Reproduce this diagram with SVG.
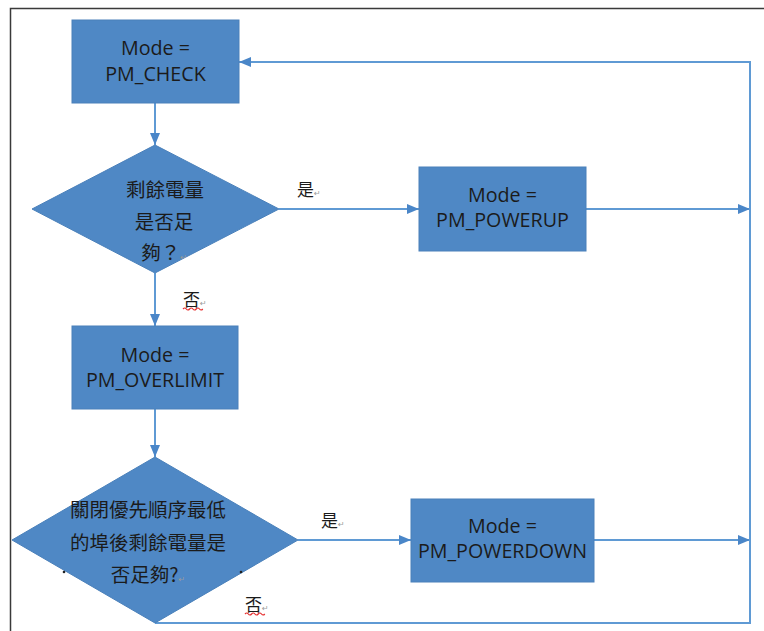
<svg xmlns="http://www.w3.org/2000/svg" width="764" height="631" viewBox="0 0 764 631">
<style>
.box{fill:#4f88c5;stroke:#4a80ba;stroke-width:1}
.lbl{font-family:"Open Sans","Liberation Sans",sans-serif;font-size:19.7px;fill:#1b1b1b;text-anchor:middle}
.cjk{font-family:"Noto Sans CJK TC","Noto Sans CJK SC",sans-serif;font-size:19.5px;fill:#1b1b1b;text-anchor:middle}
.yn{font-family:"Noto Sans CJK TC","Noto Sans CJK SC",sans-serif;font-size:17px;fill:#1b1b1b}
.pm{font-family:"DejaVu Sans",sans-serif;font-size:8px;fill:#9a9a9a}
.con{fill:none;stroke:#5f9ad4;stroke-width:2}
.sq{fill:none;stroke:#e53030;stroke-width:1.2}
</style>
<defs>
<marker id="ah" markerUnits="userSpaceOnUse" markerWidth="13" markerHeight="11" refX="12" refY="5" orient="auto">
<path d="M0,0 L12,5 L0,10 z" fill="#4a86c8"/>
</marker>
</defs>
<rect width="764" height="631" fill="#ffffff"/>
<path d="M10.5 631 V8.5 H764" fill="none" stroke="#3a3a3a" stroke-width="1.5"/>

<g id="connectors">
<line class="con" x1="155" y1="103" x2="155" y2="145" marker-end="url(#ah)"/>
<line class="con" x1="279" y1="209" x2="419" y2="209" marker-end="url(#ah)"/>
<line class="con" x1="586" y1="209" x2="750" y2="209" marker-end="url(#ah)"/>
<line class="con" x1="155" y1="273" x2="155" y2="326" marker-end="url(#ah)"/>
<line class="con" x1="155" y1="409" x2="155" y2="457" marker-end="url(#ah)"/>
<line class="con" x1="298" y1="540" x2="411" y2="540" marker-end="url(#ah)"/>
<line class="con" x1="594" y1="540" x2="750" y2="540" marker-end="url(#ah)"/>
<path class="con" d="M155 623 H750 V62 H239" marker-end="url(#ah)"/>
<text class="yn" x="297" y="196">是<tspan class="pm">↵</tspan></text>
<text class="yn" x="183" y="306">否<tspan class="pm">↵</tspan></text>
<path class="sq" d="M183 309 q1.7 -2 3.3 0 t3.3 0 t3.3 0 t3.3 0 t3.3 0 t3.3 0"/>
<text class="yn" x="321" y="527">是<tspan class="pm">↵</tspan></text>
<text class="yn" x="245" y="611">否<tspan class="pm">↵</tspan></text>
<path class="sq" d="M245 614 q1.7 -2 3.3 0 t3.3 0 t3.3 0 t3.3 0 t3.3 0 t3.3 0"/>
</g>

<g id="pm_check">
<rect class="box" x="72" y="20" width="167" height="83"/>
<text class="lbl" x="155.5" y="55">Mode =</text>
<text class="lbl" x="155.5" y="81">PM_CHECK</text>
</g>

<g id="decision1">
<polygon class="box" points="155,145 279,209 155,273 32,209"/>
<text class="cjk" x="165" y="197">剩餘電量</text>
<text class="cjk" x="164" y="229">是否足</text>
<text class="cjk" x="164" y="260">夠？<tspan class="pm">↵</tspan></text>
</g>

<g id="pm_powerup">
<rect class="box" x="419" y="167" width="167" height="84"/>
<text class="lbl" x="502.5" y="202">Mode =</text>
<text class="lbl" x="502.5" y="227">PM_POWERUP</text>
</g>

<g id="pm_overlimit">
<rect class="box" x="72" y="326" width="166" height="83"/>
<text class="lbl" x="155" y="362">Mode =</text>
<text class="lbl" x="155" y="387">PM_OVERLIMIT</text>
</g>

<g id="decision2">
<polygon class="box" points="155,457 298,540 155,623 12,540"/>
<text class="cjk" x="148" y="517">關閉優先順序最低</text>
<text class="cjk" x="148" y="550">的埠後剩餘電量是</text>
<text class="cjk" x="148" y="582">否足夠?<tspan class="pm">↵</tspan></text>
<circle cx="64" cy="572" r="1.3" fill="#222"/>
<circle cx="241" cy="572" r="1.3" fill="#222"/>
</g>

<g id="pm_powerdown">
<rect class="box" x="411" y="499" width="183" height="83"/>
<text class="lbl" x="502.5" y="533">Mode =</text>
<text class="lbl" x="502.5" y="558">PM_POWERDOWN</text>
</g>
</svg>
